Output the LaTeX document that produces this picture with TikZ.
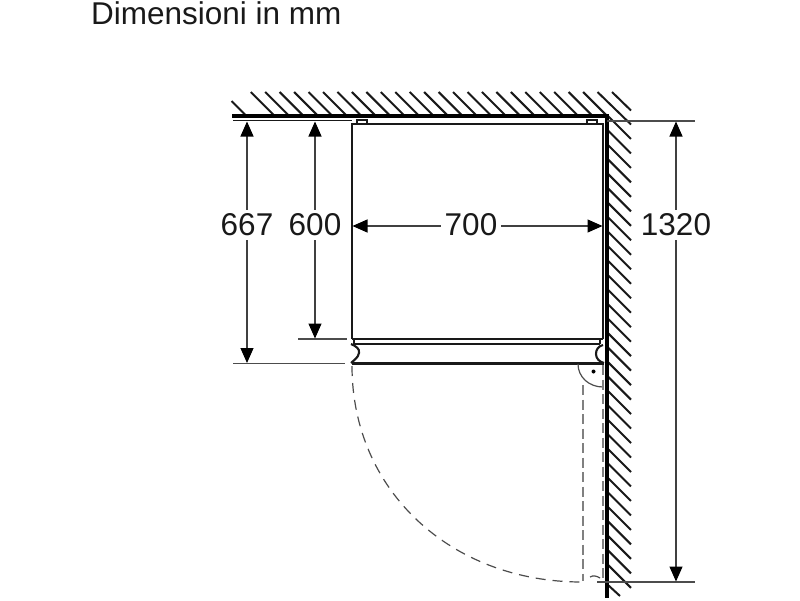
\documentclass[tikz,border=0pt]{standalone}
\usepackage{fontspec}
\setmainfont{Liberation Sans}
\usetikzlibrary{arrows.meta}
\tikzset{
  wall/.style={line width=3.8pt,black},
  hatch/.style={line width=2pt,black!90},
  body/.style={line width=2.1pt,black!90},
  thinbody/.style={line width=1.4pt,black!90},
  ext/.style={line width=1.2pt,black!70},
  dimline/.style={line width=1.2pt,black!75,{Triangle[length=15pt,width=13pt,black]}-},
  dimtext/.style={font=\fontsize{31.5}{32}\selectfont,inner sep=0pt,text=black!90,anchor=center},
  swing/.style={line width=1.2pt,black!70,dash pattern=on 10pt off 7pt},
  swingdoor/.style={line width=1.7pt,black!50,dash pattern=on 10pt off 4.5pt},
  titletext/.style={font=\fontsize{31.5}{32}\selectfont,inner sep=0pt,anchor=base west,text=black!90}
}
\begin{document}
\begin{tikzpicture}[x=1pt,y=-1pt]
\useasboundingbox (0,0) rectangle (800,600);
\node[titletext] (title) at (91,24) {Dimensioni in mm};
% hatching, top wall
\foreach \i in {2,...,25}{
  \pgfmathsetmacro{\xs}{612-14.45*\i}
  \draw[hatch] (\xs,92) -- (\xs+23,115);
}
\draw[hatch] (612,92) -- (631,110.5);
\draw[hatch] (597.5,92) -- (631,124.5);
\draw[hatch] (231.5,101) -- (245.5,115);
% hatching, right wall
\foreach \i in {2,...,33}{
  \pgfmathsetmacro{\ye}{110+14.48*\i}
  \draw[hatch] (608,\ye-23) -- (631,\ye);
}
\draw[hatch] (608,585) -- (620,596);
% walls
\coordinate (wallA) at (232,116);
\coordinate (wallB) at (607,116);
\coordinate (wallC) at (607,598);
\draw[wall,line join=miter] (wallA) -- (wallB) -- (wallC);
\coordinate (thinA) at (233,120.5);
\coordinate (thinB) at (352,120.5);
\draw[thinbody] (thinA) -- (thinB);
% appliance body
\draw[body] (352,339) -- (352,124) -- (603,124) -- (603,339);
\draw[thinbody] (357,124) -- (357,120) -- (367,120) -- (367,124);
\draw[thinbody] (587,124) -- (587,120) -- (597,120) -- (597,124);
\draw[body] (352,339) -- (603,339);
\draw[body] (354,344) -- (600,344);
\draw[thinbody] (354,339) -- (354,344);
\draw[thinbody] (600,339) -- (600,344);
\draw[body] (352,363.5) -- (604,363.5);
\draw[body] (351,344) .. controls (356,346) and (360,349) .. (359,353) .. controls (358,358) and (354,360) .. (351,363);
\draw[body] (603,345) .. controls (598,346) and (596,350) .. (596,354) .. controls (596,359) and (600,362) .. (604,363);
% hinge
\draw[ext] (578,364) .. controls (578,377) and (589,387) .. (603,387);
\fill[black] (593.5,371.5) circle (2);
% door swing
\draw[swing] (352,366) .. controls (352,490) and (450,582) .. (582,582);
\draw[swingdoor] (583,385) -- (583,581);
\draw[swingdoor] (603,365) -- (603,581);
\draw[line width=1.2pt,black!70] (590,577) .. controls (593,575) and (597,576) .. (600,578);
% extension lines
\coordinate (e667a) at (233,363.5);
\coordinate (e667b) at (345,363.5);
\coordinate (e600a) at (298,339);
\coordinate (e600b) at (347,339);
\coordinate (e1320a) at (607,121);
\coordinate (e1320b) at (695,121);
\coordinate (e1320c) at (597,582);
\coordinate (e1320d) at (695,582);
\draw[ext] (e667a) -- (e667b);
\draw[ext] (e600a) -- (e600b);
\draw[ext] (e1320a) -- (e1320b);
\draw[ext] (e1320c) -- (e1320d);
% dimension labels
\node[dimtext] (t667) at (247,225) {667};
\node[dimtext] (t600) at (315,225) {600};
\node[dimtext] (t700) at (471,225) {700};
\node[dimtext] (t1320) at (676,225) {1320};
% dimension lines
\coordinate (d667a) at (247,121.5);
\coordinate (d667b) at (247,363);
\coordinate (d600a) at (315,121.5);
\coordinate (d600b) at (315,338.5);
\coordinate (d700a) at (352.5,226);
\coordinate (d700b) at (602.5,226);
\coordinate (d1320a) at (676,121.5);
\coordinate (d1320b) at (676,581.5);
\draw[dimline] (d667a) -- ([yshift=4pt]t667.north);
\draw[dimline] (d667b) -- ([yshift=-4pt]t667.south);
\draw[dimline] (d600a) -- ([yshift=4pt]t600.north);
\draw[dimline] (d600b) -- ([yshift=-4pt]t600.south);
\draw[dimline] (d700a) -- ([xshift=-4pt]d700a -| t700.west);
\draw[dimline] (d700b) -- ([xshift=4pt]d700b -| t700.east);
\draw[dimline] (d1320a) -- ([yshift=4pt]t1320.north);
\draw[dimline] (d1320b) -- ([yshift=-4pt]t1320.south);
\end{tikzpicture}
\end{document}
